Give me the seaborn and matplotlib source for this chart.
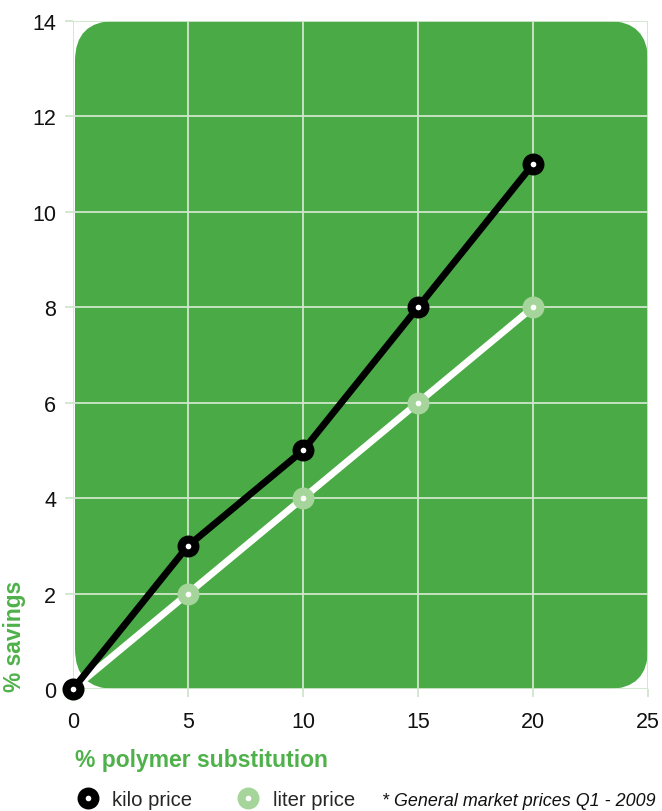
import matplotlib
matplotlib.use("Agg")
import matplotlib.pyplot as plt
from matplotlib.patches import FancyBboxPatch
from matplotlib.lines import Line2D
from matplotlib.transforms import IdentityTransform
import seaborn as sns
import pandas as pd

# Savings data: % polymer substitution vs % savings
substitution = [0, 5, 10, 15, 20]
kilo_savings = [0, 3, 5, 8, 11]
liter_savings = [0, 2, 4, 6, 8]
x_ticks = [0, 5, 10, 15, 20, 25]
y_ticks = [0, 2, 4, 6, 8, 10, 12, 14]

GREEN = "#4aaa45"
LABEL_GREEN = "#4fb14a"
GRID = "#cfe6cb"
LIGHT = "#a6d59b"

sns.set_theme(style="white")
plt.rcParams["font.family"] = ["Liberation Sans", "DejaVu Sans"]

df = pd.DataFrame({
    "substitution": substitution * 2,
    "savings": kilo_savings + liter_savings,
    "series": ["kilo price"] * len(kilo_savings) + ["liter price"] * len(liter_savings),
})

fig = plt.figure(figsize=(6.62, 8.12), dpi=100)
W, H = 662, 812
left, right, top, bottom = 73, 648, 22, 690
ax = fig.add_axes([left / W, 1 - bottom / H, (right - left) / W, (bottom - top) / H])

# rounded green panel filling the plotting area (pixel units)
bb = ax.bbox
panel = FancyBboxPatch((bb.x0 + 2, bb.y0), bb.width - 2, bb.height,
                       boxstyle="round,pad=0,rounding_size=40",
                       transform=IdentityTransform(),
                       facecolor=GREEN, edgecolor="none", zorder=1)
ax.add_patch(panel)

common = dict(linewidth=4.9, marker="o", markersize=10, markeredgewidth=5.8,
              markerfacecolor="white")
sns.lineplot(data=df[df.series == "liter price"], x="substitution", y="savings",
             color="white", markeredgecolor=LIGHT, ax=ax, zorder=3, clip_on=False, **common)
sns.lineplot(data=df[df.series == "kilo price"], x="substitution", y="savings",
             color="black", markeredgecolor="black", ax=ax, zorder=4, clip_on=False, **common)

ax.set_xlim(0, 25)
ax.set_ylim(0, 14)
ax.set_xticks(x_ticks)
ax.set_yticks(y_ticks)
ax.set_axisbelow("line")
ax.grid(True, color=GRID, linewidth=1.3)
for s in ax.spines.values():
    s.set_visible(False)
ax.tick_params(axis="both", which="both", length=6, width=1.3, color=GRID,
               labelsize=15.5, labelcolor="#111111", left=True, bottom=True)
ax.tick_params(axis="x", pad=10)
ax.tick_params(axis="y", pad=6)
ax.set_xlabel("")
ax.set_ylabel("")
if ax.get_legend() is not None:
    ax.get_legend().remove()

fig.text(15 / W, 1 - 636 / H, "% savings", rotation=90, ha="center", va="center",
         color=LABEL_GREEN, fontsize=16.4, fontweight="bold")
fig.text(75 / W, 1 - 761 / H, "% polymer substitution", ha="left", va="center",
         color=LABEL_GREEN, fontsize=16.5, fontweight="bold")

handles = [
    Line2D([], [], linestyle="", marker="o", markersize=10, markeredgewidth=5.8,
           markerfacecolor="white", markeredgecolor="black", label="kilo price"),
    Line2D([], [], linestyle="", marker="o", markersize=10, markeredgewidth=5.8,
           markerfacecolor="white", markeredgecolor=LIGHT, label="liter price"),
]
fig.legend(handles=handles, loc="center left", bbox_to_anchor=(78 / W, 1 - 801 / H),
           ncol=2, frameon=False, fontsize=14.6, handlelength=1.0, handletextpad=0.7,
           columnspacing=2.25, borderpad=0, borderaxespad=0)
fig.text(382 / W, 1 - 802 / H, "* General market prices Q1 - 2009", ha="left", va="center",
         fontsize=12.9, style="italic", color="#111111")

fig.savefig("out.png", dpi=100)
